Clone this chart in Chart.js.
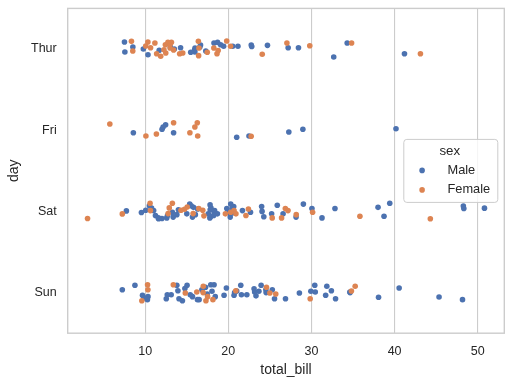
<!DOCTYPE html>
<html>
<head>
<meta charset="utf-8">
<script src="https://cdn.jsdelivr.net/npm/chart.js@4.4.0/dist/chart.umd.min.js"></script>
<style>
  html, body { margin: 0; padding: 0; background: #fff; }
</style>
</head>
<body>
<canvas id="strip" width="512" height="385"></canvas>
<script>
const days = ['Thur', 'Fri', 'Sat', 'Sun'];
const sexes = ['Male', 'Female'];
const xTicks = [10, 20, 30, 40, 50];

// each row: [total_bill, jitter offset in category units]
const thurMale = [
  [27.20, -0.016], [22.76, -0.049], [17.29, 0.025], [19.44, -0.033], [16.66, -0.05],
  [32.68, 0.098], [15.98, 0.037], [13.03, -0.025], [18.28, -0.074], [24.71, -0.045],
  [21.16, -0.033], [11.69, 0.016], [14.26, -0.016], [15.95, 0.009], [8.52, -0.025],
  [22.82, -0.03], [19.08, -0.053], [16.00, -0.012], [34.30, -0.074], [41.19, 0.058],
  [9.78, 0.0], [7.51, -0.086], [28.44, -0.016], [15.48, 0.040], [16.58, -0.025],
  [7.56, 0.037], [10.34, 0.070], [13.51, 0.0], [18.71, -0.082], [20.53, -0.033]
];
const thurFemale = [
  [10.07, -0.037], [34.83, -0.074], [10.65, -0.016], [12.43, -0.053], [24.08, 0.065],
  [13.42, 0.012], [12.48, 0.049], [29.80, -0.040], [14.52, 0.049], [11.38, 0.058],
  [20.27, -0.033], [11.17, -0.074], [12.26, 0.009], [18.26, -0.012], [8.51, 0.025],
  [10.33, -0.086], [14.15, 0.058], [13.16, -0.082], [17.47, 0.040], [27.05, -0.074],
  [16.43, 0.082], [8.35, -0.094], [18.64, 0.058], [11.87, 0.089], [19.81, -0.098],
  [43.11, 0.058], [13.00, -0.012], [12.74, -0.082], [13.00, -0.061], [16.40, -0.094],
  [16.47, -0.012], [18.78, 0.02]
];
const friMale = [
  [28.97, -0.011], [22.49, 0.071], [40.17, -0.018], [27.28, 0.022], [12.03, -0.011],
  [21.01, 0.087], [12.46, -0.068], [12.16, -0.039], [8.58, 0.031], [13.42, 0.031]
];
const friFemale = [
  [5.75, -0.076], [16.32, 0.071], [22.75, 0.075], [11.35, 0.047], [15.38, 0.031],
  [13.42, -0.092], [15.98, -0.039], [16.27, -0.092], [10.09, 0.071]
];
const satMale = [
  [20.65, -0.06], [17.92, 0.06], [39.42, -0.1], [19.82, -0.035], [17.81, -0.08],
  [13.37, 0.07], [12.69, 0.05], [21.70, -0.01], [9.55, 0.013], [18.35, -0.01],
  [17.78, 0.08], [24.06, 0.0], [16.31, -0.03], [18.69, 0.03], [31.27, 0.08],
  [16.04, 0.04], [38.01, -0.05], [11.24, 0.05], [48.27, -0.065], [20.29, -0.09],
  [13.81, 0.04], [11.02, -0.01], [18.29, 0.0], [17.59, 0.03], [20.08, 0.01],
  [20.23, 0.07], [15.01, 0.03], [12.02, 0.087], [10.51, -0.07], [17.92, -0.04],
  [15.36, -0.09], [20.49, 0.02], [25.21, 0.03], [18.24, 0.05], [14.00, -0.02],
  [50.81, -0.04], [15.81, -0.05], [26.59, 0.03], [38.73, 0.06], [24.27, 0.065],
  [30.06, -0.035], [25.89, -0.075], [48.33, -0.035], [28.15, 0.07], [11.59, 0.08],
  [7.74, -0.006], [20.45, -0.035], [13.28, 0.01], [24.01, -0.06], [15.69, 0.07],
  [11.61, 0.09], [10.77, -0.04], [15.53, -0.07], [10.07, -0.015], [12.60, 0.08],
  [32.83, -0.035], [29.03, -0.09], [22.67, 0.01], [17.82, -0.02]
];
const satFemale = [
  [20.29, 0.01], [15.77, 0.027], [19.65, 0.03], [15.06, -0.055], [20.69, -0.01],
  [16.93, -0.015], [26.41, 0.08], [16.45, -0.035], [3.07, 0.087], [17.07, 0.055],
  [26.86, -0.035], [25.28, 0.08], [14.73, -0.027], [44.30, 0.09], [22.42, -0.03],
  [20.92, 0.03], [14.31, -0.015], [7.25, 0.031], [10.59, -0.1], [10.63, -0.01],
  [12.76, 0.027], [13.27, -0.1], [28.17, 0.04], [12.90, -0.043], [30.14, 0.01],
  [22.12, 0.05], [35.83, 0.06], [27.18, -0.01]
];
const sunMale = [
  [10.34, 0.05], [21.01, -0.02], [23.68, -0.016], [25.29, -0.036], [8.77, -0.09],
  [26.88, 0.075], [15.04, -0.09], [14.78, -0.05], [10.27, 0.087], [15.42, 0.026],
  [18.43, 0.05], [21.58, 0.026], [16.29, 0.087], [17.46, 0.017], [13.94, -0.023],
  [9.68, 0.033], [30.40, -0.09], [18.29, -0.097], [22.23, 0.026], [32.40, -0.023],
  [28.55, 0.005], [18.04, -0.016], [12.54, 0.075], [9.94, 0.066], [25.56, 0.075],
  [19.49, 0.033], [38.07, 0.058], [23.95, -0.09], [29.93, -0.016], [14.07, 0.075],
  [13.13, 0.026], [17.26, -0.065], [24.55, 0.0], [19.77, -0.057], [48.17, 0.087],
  [16.49, 0.087], [21.50, -0.09], [12.66, 0.026], [13.81, -0.09], [24.52, -0.036],
  [20.76, 0.0], [31.71, 0.033], [7.25, -0.036], [31.85, -0.078], [16.82, -0.036],
  [32.90, 0.075], [17.89, -0.097], [14.48, 0.1], [34.63, -0.007], [34.65, 0.0],
  [23.33, 0.04], [45.35, 0.054], [23.17, -0.007], [40.55, -0.057], [20.69, 0.033],
  [30.46, -0.007], [23.10, -0.048], [15.69, 0.05]
];
const sunFemale = [
  [16.99, -0.078], [24.59, -0.065], [35.26, -0.078], [14.83, 0.005], [10.33, -0.036],
  [16.97, 0.0], [10.29, -0.097], [34.81, -0.02], [25.71, 0.017], [17.31, 0.1],
  [29.85, 0.075], [25.00, 0.005], [13.39, -0.097], [16.21, -0.007], [17.51, 0.05],
  [9.60, 0.1], [20.90, -0.023], [18.15, 0.087]
];

const palette = ['#4c72b0', '#dd8452'];
const FONT = "'Liberation Sans', Arial, sans-serif";
const INK = '#262626';
const GRID = '#cccccc';

function toPoints(groups) {
  const pts = [];
  groups.forEach((rows, dayIdx) => {
    rows.forEach(([bill, jit]) => pts.push({ x: bill, y: dayIdx + jit }));
  });
  return pts;
}

const malePoints = toPoints([thurMale, friMale, satMale, sunMale]);
const femalePoints = toPoints([thurFemale, friFemale, satFemale, sunFemale]);

// axes frame, all four spines
const frame = {
  id: 'frame',
  beforeDatasetsDraw(chart) {
    const { ctx, chartArea: a } = chart;
    ctx.save();
    ctx.strokeStyle = GRID;
    ctx.lineWidth = 1.4;
    ctx.strokeRect(a.left, a.top, a.right - a.left, a.bottom - a.top);
    ctx.restore();
  }
};

// legend box inside the axes, center right
const legendBox = {
  id: 'legendBox',
  afterDraw(chart) {
    const { ctx, chartArea: a } = chart;
    const w = 94, h = 63;
    const left = a.right - 100.5, top = a.top + 131;
    ctx.save();
    ctx.beginPath();
    ctx.roundRect(left, top, w, h, 3);
    ctx.fillStyle = 'rgba(255,255,255,0.8)';
    ctx.fill();
    ctx.strokeStyle = GRID;
    ctx.lineWidth = 1;
    ctx.stroke();

    ctx.fillStyle = INK;
    ctx.textBaseline = 'middle';
    ctx.textAlign = 'center';
    ctx.font = '13.3px ' + FONT;
    ctx.fillText('sex', left + w / 2 - 1, top + 12);

    ctx.textAlign = 'left';
    ctx.font = '12.8px ' + FONT;
    sexes.forEach((s, i) => {
      const y = top + 31 + i * 19.5;
      ctx.beginPath();
      ctx.arc(left + 18.3, y, 2.8, 0, Math.PI * 2);
      ctx.fillStyle = palette[i];
      ctx.fill();
      ctx.fillStyle = INK;
      ctx.fillText(s, left + 43.7, y);
    });
    ctx.restore();
  }
};

new Chart(document.getElementById('strip'), {
  type: 'scatter',
  data: {
    datasets: [
      {
        label: sexes[1],
        data: femalePoints,
        backgroundColor: palette[1],
        borderWidth: 0,
        pointRadius: 2.8,
        pointHoverRadius: 2.8
      },
      {
        label: sexes[0],
        data: malePoints,
        backgroundColor: palette[0],
        borderWidth: 0,
        pointRadius: 2.8,
        pointHoverRadius: 2.8
      }
    ]
  },
  options: {
    responsive: false,
    animation: false,
    layout: { padding: { top: 8.4, right: 7.7, left: 0, bottom: 0 } },
    plugins: {
      legend: { display: false },
      tooltip: { enabled: false }
    },
    scales: {
      x: {
        type: 'linear',
        min: 0.683,
        max: 53.197,
        afterBuildTicks: (scale) => { scale.ticks = xTicks.map(v => ({ value: v })); },
        afterFit: (scale) => {
          scale.height = 51.8;
          scale.paddingLeft = 0;
          scale.paddingRight = 0;
        },
        ticks: { color: INK, font: { family: FONT, size: 12.5 }, padding: 10.5 },
        grid: { color: GRID, lineWidth: 1.1, drawTicks: false },
        border: { display: false },
        title: {
          display: true,
          text: 'total_bill',
          color: INK,
          font: { family: FONT, size: 14 },
          padding: { top: 0, bottom: 6.5 }
        }
      },
      y: {
        type: 'linear',
        reverse: true,
        min: -0.5,
        max: 3.5,
        afterBuildTicks: (scale) => { scale.ticks = days.map((d, i) => ({ value: i })); },
        afterFit: (scale) => {
          scale.width = 67.7;
          scale.paddingTop = 0;
          scale.paddingBottom = 0;
        },
        ticks: {
          color: INK,
          font: { family: FONT, size: 12.5 },
          padding: 11,
          callback: (v) => days[v]
        },
        grid: { display: false, drawTicks: false },
        border: { display: false },
        title: {
          display: true,
          text: 'day',
          color: INK,
          font: { family: FONT, size: 14 },
          padding: { top: 6, bottom: 0 }
        }
      }
    }
  },
  plugins: [frame, legendBox]
});
</script>
</body>
</html>
